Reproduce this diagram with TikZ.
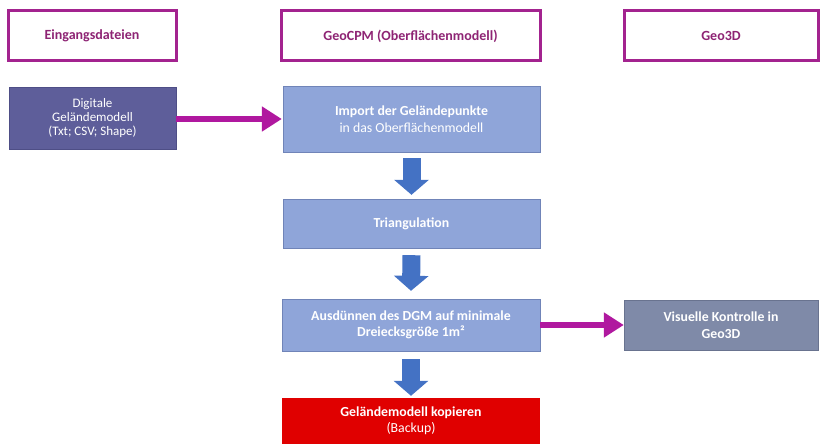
\documentclass[tikz,border=0pt]{standalone}
\usepackage{fontspec}
\setmainfont{Carlito}
\usetikzlibrary{arrows.meta}
\definecolor{hdrborder}{HTML}{A3238F}
\definecolor{hdrtext}{HTML}{8E2474}
\definecolor{digfill}{HTML}{5E5E9A}
\definecolor{digdraw}{HTML}{4E4E86}
\definecolor{lbfill}{HTML}{8FA5D9}
\definecolor{lbdraw}{HTML}{7084B8}
\definecolor{visfill}{HTML}{7F8AA8}
\definecolor{visdraw}{HTML}{69738F}
\definecolor{redfill}{HTML}{E00000}
\definecolor{magarrow}{HTML}{B0189F}
\definecolor{bluearrow}{HTML}{4472C4}
\tikzset{
  hdr/.style={draw=hdrborder, line width=3pt, fill=white, text=hdrtext,
    font=\fontsize{14}{16}\selectfont\bfseries, inner sep=0pt},
  procbox/.style={inner sep=0pt, align=center, text=white,
    font=\fontsize{13.8}{16.5}\selectfont},
  magarr/.style={draw=magarrow, line width=6pt, -{Triangle[length=20pt,width=24pt]}},
  bluarr/.style={draw=bluearrow, line width=18pt, -{Triangle[length=15pt,width=34pt]}}
}
\begin{document}
\begin{tikzpicture}[x=1pt,y=-1pt]
\useasboundingbox[fill=white] (0,0) rectangle (823,444);
% headers
\node[hdr, minimum width=168pt, minimum height=50pt] (h1) at (92,36) {Eingangsdateien};
\node[hdr, minimum width=259pt, minimum height=50pt] (h2) at (410.5,36) {GeoCPM (Oberflächenmodell)};
\node[hdr, minimum width=194pt, minimum height=50pt] (h3) at (721,36) {Geo3D};
% boxes
\node[procbox, fill=digfill, draw=digdraw, minimum width=167pt, minimum height=62pt,
  font=\fontsize{13}{13.8}\selectfont] (dig) at (92.5,118) {Digitale\\Geländemodell\\(Txt; CSV; Shape)};
\node[procbox, fill=lbfill, draw=lbdraw, minimum width=257pt, minimum height=66pt] (imp) at (411.5,119)
  {\textbf{Import der Geländepunkte}\\ in das Oberflächenmodell};
\node[procbox, fill=lbfill, draw=lbdraw, minimum width=257pt, minimum height=49pt] (tri) at (411.5,223.5)
  {\textbf{Triangulation}};
\node[procbox, fill=lbfill, draw=lbdraw, minimum width=258pt, minimum height=52pt] (aus) at (411,325)
  {\textbf{Ausdünnen des DGM auf minimale}\\\textbf{Dreiecksgröße 1m²}};
\node[procbox, fill=visfill, draw=visdraw, minimum width=194pt, minimum height=50pt] (vis) at (721,325)
  {\textbf{Visuelle Kontrolle in}\\\textbf{Geo3D}};
\node[procbox, fill=redfill, minimum width=258pt, minimum height=46pt] (red) at (411,421)
  {\textbf{Geländemodell kopieren}\\(Backup)};
% connectors
\draw[magarr] ([yshift=-1pt]dig.east) -- ([yshift=-1pt,xshift=-1pt]dig.east -| imp.west);
\draw[magarr] (aus.east) -- (vis.west);
\draw[bluarr] ([yshift=-6pt]imp.south) -- ([yshift=4pt]tri.north);
\draw[bluarr] ([yshift=-7pt]tri.south) -- ([yshift=8pt]aus.north);
\draw[bluarr] ([yshift=-8pt]aus.south) -- ([yshift=2pt]red.north);
\end{tikzpicture}
\end{document}
